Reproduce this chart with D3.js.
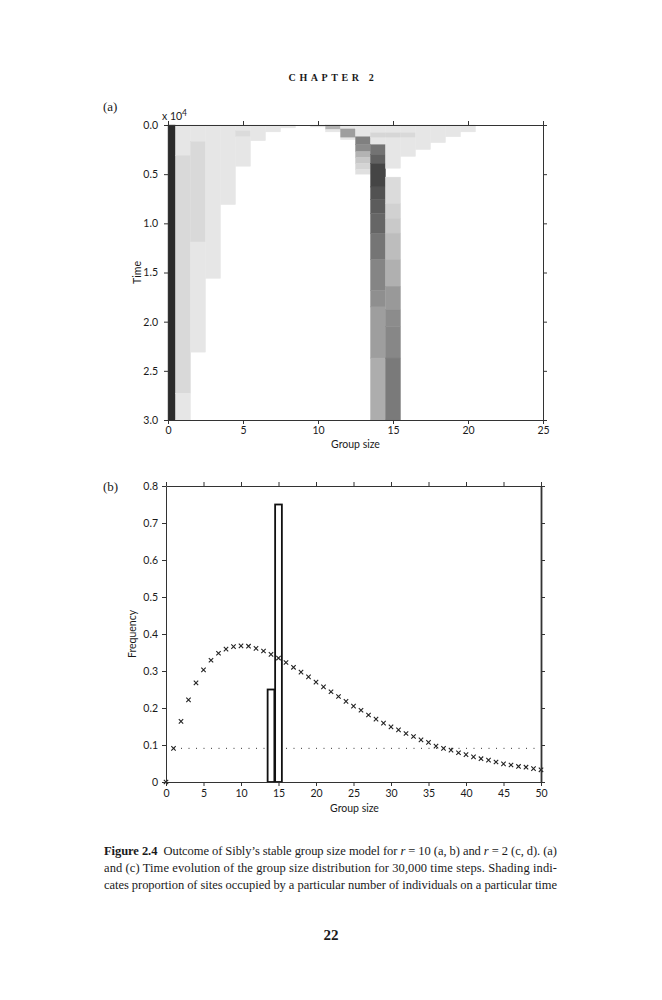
<!DOCTYPE html>
<html>
<head>
<meta charset="utf-8">
<script src="https://cdn.jsdelivr.net/npm/d3@7"></script>
<style>
body { margin: 0; background: #fff; }
.ax text { font-family: Lato, "Open Sans", sans-serif; font-size: 10.5px; fill: #1a1a1a; }
.ax path, .ax line { stroke: #333; }
</style>
</head>
<body>
<svg id="page" width="662" height="1000"></svg>
<script>
// ---- panel (a): runs of shading, [group size, time start, time end, proportion] (time in x10^4)
var heatRuns = [
    [0, 0, 3.0, 0.83],
    [1, 0, 0.31, 0.10], [1, 0.31, 2.73, 0.15], [1, 2.73, 3.0, 0.10],
    [2, 0, 0.17, 0.10], [2, 0.17, 1.19, 0.15], [2, 1.19, 2.31, 0.10],
    [3, 0, 1.56, 0.10],
    [4, 0, 0.81, 0.10],
    [5, 0, 0.06, 0.10], [5, 0.06, 0.12, 0.14], [5, 0.12, 0.42, 0.10],
    [6, 0, 0.16, 0.10],
    [7, 0, 0.07, 0.10],
    [8, 0, 0.03, 0.10],
    [10, 0, 0.02, 0.10],
    [11, 0, 0.045, 0.30], [11, 0.045, 0.07, 0.10],
    [12, 0, 0.04, 0.10], [12, 0.04, 0.13, 0.38], [12, 0.13, 0.15, 0.10],
    [13, 0, 0.12, 0.10], [13, 0.12, 0.2, 0.50], [13, 0.2, 0.27, 0.45], [13, 0.27, 0.33, 0.30],
    [13, 0.33, 0.39, 0.22], [13, 0.39, 0.45, 0.17], [13, 0.45, 0.5, 0.12],
    [14, 0, 0.08, 0.10], [14, 0.08, 0.13, 0.16], [14, 0.13, 0.2, 0.10], [14, 0.2, 0.3, 0.55],
    [14, 0.3, 0.39, 0.62], [14, 0.39, 0.63, 0.73], [14, 0.63, 0.76, 0.68], [14, 0.76, 0.9, 0.64],
    [14, 0.9, 1.1, 0.60], [14, 1.1, 1.37, 0.54], [14, 1.37, 1.68, 0.48], [14, 1.68, 1.85, 0.44],
    [14, 1.85, 2.37, 0.38], [14, 2.37, 3.0, 0.32],
    [15, 0, 0.08, 0.10], [15, 0.08, 0.13, 0.16], [15, 0.13, 0.44, 0.10], [15, 0.53, 0.8, 0.14],
    [15, 0.8, 0.95, 0.18], [15, 0.95, 1.1, 0.21], [15, 1.1, 1.37, 0.26], [15, 1.37, 1.64, 0.31],
    [15, 1.64, 1.88, 0.40], [15, 1.88, 2.05, 0.45], [15, 2.05, 2.37, 0.47], [15, 2.37, 3.0, 0.52],
    [16, 0, 0.08, 0.10], [16, 0.08, 0.13, 0.15], [16, 0.13, 0.32, 0.10],
    [17, 0, 0.25, 0.10],
    [18, 0, 0.18, 0.10],
    [19, 0, 0.12, 0.10],
    [20, 0, 0.07, 0.10]
];
var timeTicks = [0, 0.5, 1.0, 1.5, 2.0, 2.5, 3.0];
var sizeTicksA = [0, 5, 10, 15, 20, 25];

// ---- panel (b)
var barSizes = [14, 15];
var barFreqs = [0.25, 0.75];
var predSizes = [0, 1, 2, 3, 4, 5, 6, 7, 8, 9, 10, 11, 12, 13, 14, 15, 16, 17, 18, 19, 20,
    21, 22, 23, 24, 25, 26, 27, 28, 29, 30, 31, 32, 33, 34, 35, 36, 37, 38, 39, 40,
    41, 42, 43, 44, 45, 46, 47, 48, 49, 50];
var predFreqs = [0, 0.091, 0.164, 0.222, 0.268, 0.303, 0.329, 0.348, 0.359, 0.366, 0.368,
    0.367, 0.361, 0.354, 0.345, 0.335, 0.323, 0.310, 0.297, 0.284, 0.270,
    0.257, 0.244, 0.231, 0.218, 0.205, 0.194, 0.181, 0.170, 0.159, 0.149,
    0.141, 0.131, 0.123, 0.114, 0.107, 0.097, 0.091, 0.086, 0.079, 0.074,
    0.068, 0.063, 0.059, 0.054, 0.049, 0.046, 0.042, 0.040, 0.036, 0.033];
var dottedLevel = 0.091;
var freqTicks = [0, 0.1, 0.2, 0.3, 0.4, 0.5, 0.6, 0.7, 0.8];
var sizeTicksB = [0, 5, 10, 15, 20, 25, 30, 35, 40, 45, 50];

var captionLines = [
    [["Figure 2.4", "b"], ["  Outcome of Sibly\u2019s stable group size model for ", ""], ["r", "i"],
     [" = 10 (a, b) and ", ""], ["r", "i"], [" = 2 (c, d). (a)", ""]],
    [["and (c) Time evolution of the group size distribution for 30,000 time steps. Shading indi-", ""]],
    [["cates proportion of sites occupied by a particular number of individuals on a particular time", ""]]
];

var svg = d3.select("#page");
svg.append("rect").attr("width", 662).attr("height", 1000).attr("fill", "#fff");
var serif = "'Liberation Serif', 'DejaVu Serif', serif";
var sans = "Lato, 'Open Sans', sans-serif";

svg.append("text")
    .attr("x", 333).attr("y", 81)
    .attr("text-anchor", "middle")
    .attr("font-family", serif).attr("font-size", 10).attr("font-weight", "bold")
    .attr("letter-spacing", "3.6px").attr("fill", "#1a1a1a")
    .text("CHAPTER 2");

// ---------------- panel (a)
var a = {left: 168, top: 125, width: 375, height: 295};
var gA = svg.append("g").attr("transform", "translate(" + a.left + "," + a.top + ")");
var xA = d3.scaleLinear().domain([0, 25]).range([0, a.width]);
var yA = d3.scaleLinear().domain([0, 3]).range([0, a.height]);
var shade = d3.scaleLinear().domain([0, 1]).range(["#ffffff", "#000000"]);

gA.selectAll("rect.cell")
    .data(heatRuns)
    .enter().append("rect")
    .attr("class", "cell")
    .attr("x", function(d) { return xA(Math.max(0, d[0] - 0.5)); })
    .attr("width", function(d) { return xA(d[0] + 0.5) - xA(Math.max(0, d[0] - 0.5)); })
    .attr("y", function(d) { return yA(d[1]); })
    .attr("height", function(d) { return yA(d[2]) - yA(d[1]); })
    .attr("fill", function(d) { return shade(d[3]); })
    .attr("stroke", function(d) { return shade(d[3]); })
    .attr("stroke-width", 0.4);

gA.append("g").attr("class", "ax")
    .call(d3.axisLeft(yA).tickValues(timeTicks).tickFormat(d3.format(".1f")).tickSize(4).tickSizeOuter(0).tickPadding(6));
gA.append("g").attr("class", "ax")
    .attr("transform", "translate(" + a.width + ",0)")
    .call(d3.axisRight(yA).tickValues(timeTicks).tickFormat("").tickSize(4).tickSizeOuter(0));
gA.append("g").attr("class", "ax")
    .call(d3.axisTop(xA).tickValues(sizeTicksA).tickFormat("").tickSize(4).tickSizeOuter(0));
gA.append("g").attr("class", "ax")
    .attr("transform", "translate(0," + a.height + ")")
    .call(d3.axisBottom(xA).tickValues(sizeTicksA).tickSize(4).tickSizeOuter(0).tickPadding(3));

var expo = gA.append("text")
    .attr("x", -6).attr("y", -5)
    .attr("font-family", sans).attr("font-size", 10.5).attr("fill", "#1a1a1a");
expo.append("tspan").text("x 10");
expo.append("tspan").attr("dy", -4).attr("font-size", 8.5).text("4");

gA.append("text")
    .attr("transform", "translate(-27," + (a.height / 2) + ") rotate(-90)")
    .attr("text-anchor", "middle")
    .attr("font-family", sans).attr("font-size", 10.5).attr("fill", "#1a1a1a")
    .text("Time");
gA.append("text")
    .attr("x", a.width / 2).attr("y", a.height + 28)
    .attr("text-anchor", "middle")
    .attr("font-family", sans).attr("font-size", 10.5).attr("fill", "#1a1a1a")
    .text("Group size");

svg.append("text").attr("x", 103).attr("y", 111)
    .attr("font-family", serif).attr("font-size", 13).attr("fill", "#1a1a1a").text("(a)");

// ---------------- panel (b)
var b = {left: 166, top: 486, width: 375, height: 296};
var gB = svg.append("g").attr("transform", "translate(" + b.left + "," + b.top + ")");
var xB = d3.scaleLinear().domain([0, 50]).range([0, b.width]);
var yB = d3.scaleLinear().domain([0, 0.8]).range([b.height, 0]);

gB.append("line")
    .attr("x1", xB(0)).attr("x2", xB(50))
    .attr("y1", yB(dottedLevel)).attr("y2", yB(dottedLevel))
    .attr("stroke", "#333").attr("stroke-width", 1)
    .attr("stroke-dasharray", "1,6.5");

gB.selectAll("rect.bar")
    .data(barSizes)
    .enter().append("rect")
    .attr("class", "bar")
    .attr("x", function(d) { return xB(d - 0.45); })
    .attr("width", xB(0.9) - xB(0))
    .attr("y", function(d, i) { return yB(barFreqs[i]); })
    .attr("height", function(d, i) { return yB(0) - yB(barFreqs[i]); })
    .attr("fill", "#fff")
    .attr("stroke", "#111")
    .attr("stroke-width", 1.8);

gB.selectAll("path.mk")
    .data(predSizes)
    .enter().append("path")
    .attr("class", "mk")
    .attr("transform", function(d, i) { return "translate(" + xB(d) + "," + yB(predFreqs[i]) + ")"; })
    .attr("d", "M-2.2,-2.2L2.2,2.2M2.2,-2.2L-2.2,2.2")
    .attr("stroke", "#222")
    .attr("stroke-width", 1.1);

gB.append("g").attr("class", "ax")
    .call(d3.axisLeft(yB).tickValues(freqTicks)
        .tickFormat(function(d) { return d === 0 ? "0" : d3.format(".1f")(d); })
        .tickSize(4).tickSizeOuter(0).tickPadding(4));
gB.append("g").attr("class", "ax")
    .attr("transform", "translate(" + b.width + ",0)")
    .call(d3.axisRight(yB).tickValues(freqTicks).tickFormat("").tickSize(4).tickSizeOuter(0))
    .select(".domain").attr("stroke-width", 1.8).attr("stroke", "#555");
gB.append("g").attr("class", "ax")
    .call(d3.axisTop(xB).tickValues(sizeTicksB).tickFormat("").tickSize(4).tickSizeOuter(0));
gB.append("g").attr("class", "ax")
    .attr("transform", "translate(0," + b.height + ")")
    .call(d3.axisBottom(xB).tickValues(sizeTicksB).tickSize(4).tickSizeOuter(0).tickPadding(4));

gB.append("text")
    .attr("transform", "translate(-30," + (b.height / 2) + ") rotate(-90)")
    .attr("text-anchor", "middle")
    .attr("font-family", sans).attr("font-size", 10.5).attr("fill", "#1a1a1a")
    .text("Frequency");
gB.append("text")
    .attr("x", b.width / 2 + 1).attr("y", b.height + 30)
    .attr("text-anchor", "middle")
    .attr("font-family", sans).attr("font-size", 10.5).attr("fill", "#1a1a1a")
    .text("Group size");

svg.append("text").attr("x", 103).attr("y", 491)
    .attr("font-family", serif).attr("font-size", 13).attr("fill", "#1a1a1a").text("(b)");

// ---------------- caption
captionLines.forEach(function(line, i) {
    var t = svg.append("text")
        .attr("x", 104).attr("y", 855 + i * 17)
        .attr("font-family", serif).attr("font-size", 12.5).attr("fill", "#1a1a1a")
        .attr("textLength", 453).attr("lengthAdjust", "spacing")
        .attr("xml:space", "preserve");
    line.forEach(function(part) {
        t.append("tspan")
            .attr("font-weight", part[1] === "b" ? "bold" : null)
            .attr("font-style", part[1] === "i" ? "italic" : null)
            .text(part[0]);
    });
});

svg.append("text")
    .attr("x", 331).attr("y", 940)
    .attr("text-anchor", "middle")
    .attr("font-family", serif).attr("font-size", 15).attr("font-weight", "bold").attr("fill", "#1a1a1a")
    .text("22");
</script>
</body>
</html>
